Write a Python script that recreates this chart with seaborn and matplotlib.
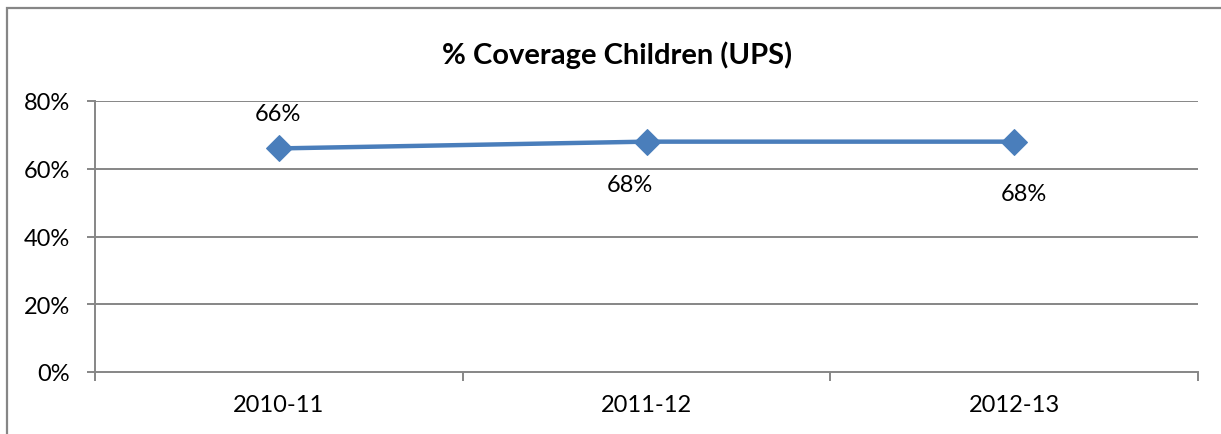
import matplotlib
matplotlib.use("Agg")
import matplotlib.pyplot as plt
from matplotlib.patches import Rectangle
from matplotlib.ticker import FuncFormatter, FixedLocator
import seaborn as sns
import pandas as pd

# Chart data
years = ["2010-11", "2011-12", "2012-13"]
coverage = [0.66, 0.68, 0.68]
label_texts = ["66%", "68%", "68%"]
y_ticks = [0.0, 0.2, 0.4, 0.6, 0.8]

sns.set_theme(style="white")
plt.rcParams["font.family"] = ["Lato", "DejaVu Sans"]

GRID = "#868686"
BLUE = "#4A7EBB"
FS = 17

fig = plt.figure(figsize=(12.21, 4.35), dpi=100)
fig.patch.set_facecolor("white")

# outer chart frame (left and top edges show inside the canvas)
fig.patches.append(Rectangle((7 / 1221, -0.1), 1.2, (435 - 9) / 435 + 0.1,
                             transform=fig.transFigure, fill=False,
                             edgecolor=GRID, linewidth=1.6))

ax = fig.add_axes([95 / 1221, 62 / 435, (1198 - 95) / 1221, (373 - 102) / 435])

df = pd.DataFrame({"year": years, "coverage": coverage})
sns.lineplot(data=df, x="year", y="coverage", ax=ax, color=BLUE,
             linewidth=3.2, marker="D", markersize=13,
             markeredgecolor=BLUE, markerfacecolor=BLUE, sort=False)

ax.set_xlim(-0.5, len(years) - 0.5)
ax.set_ylim(0, 0.8)
ax.set_yticks(y_ticks)
ax.yaxis.set_major_formatter(FuncFormatter(lambda v, _: f"{v * 100:.0f}%"))
ax.grid(False)
for v in y_ticks[1:]:
    ax.axhline(v, color=GRID, linewidth=1.4, zorder=0)

ax.set_xticks(range(len(years)))
ax.set_xticklabels(years)
ax.xaxis.set_minor_locator(FixedLocator([i - 0.5 for i in range(len(years) + 1)]))
ax.tick_params(axis="x", which="major", length=0, pad=16, labelsize=FS,
               labelcolor="black")
ax.tick_params(axis="x", which="minor", length=6.5, width=1.4, color=GRID,
               direction="out", bottom=True)
ax.tick_params(axis="y", length=6, width=1.4, color=GRID, direction="out",
               pad=12, labelsize=FS, labelcolor="black", left=True)

for side in ["top", "right"]:
    ax.spines[side].set_visible(False)
for side in ["left", "bottom"]:
    ax.spines[side].set_color(GRID)
    ax.spines[side].set_linewidth(1.4)

ax.set_xlabel("")
ax.set_ylabel("")

# data labels
offsets = [(-1, 25), (-12, -31), (7, -37)]
for i, (val, txt, off) in enumerate(zip(coverage, label_texts, offsets)):
    ax.annotate(txt, (i, val), xytext=off, textcoords="offset points",
                ha="center", va="center", fontsize=FS, color="black")

fig.text(617 / 1221, 1 - 55 / 435, "% Coverage Children (UPS)",
         ha="center", va="center", fontsize=21, fontweight="bold",
         color="black")

fig.savefig("out.png", dpi=100, facecolor="white")
